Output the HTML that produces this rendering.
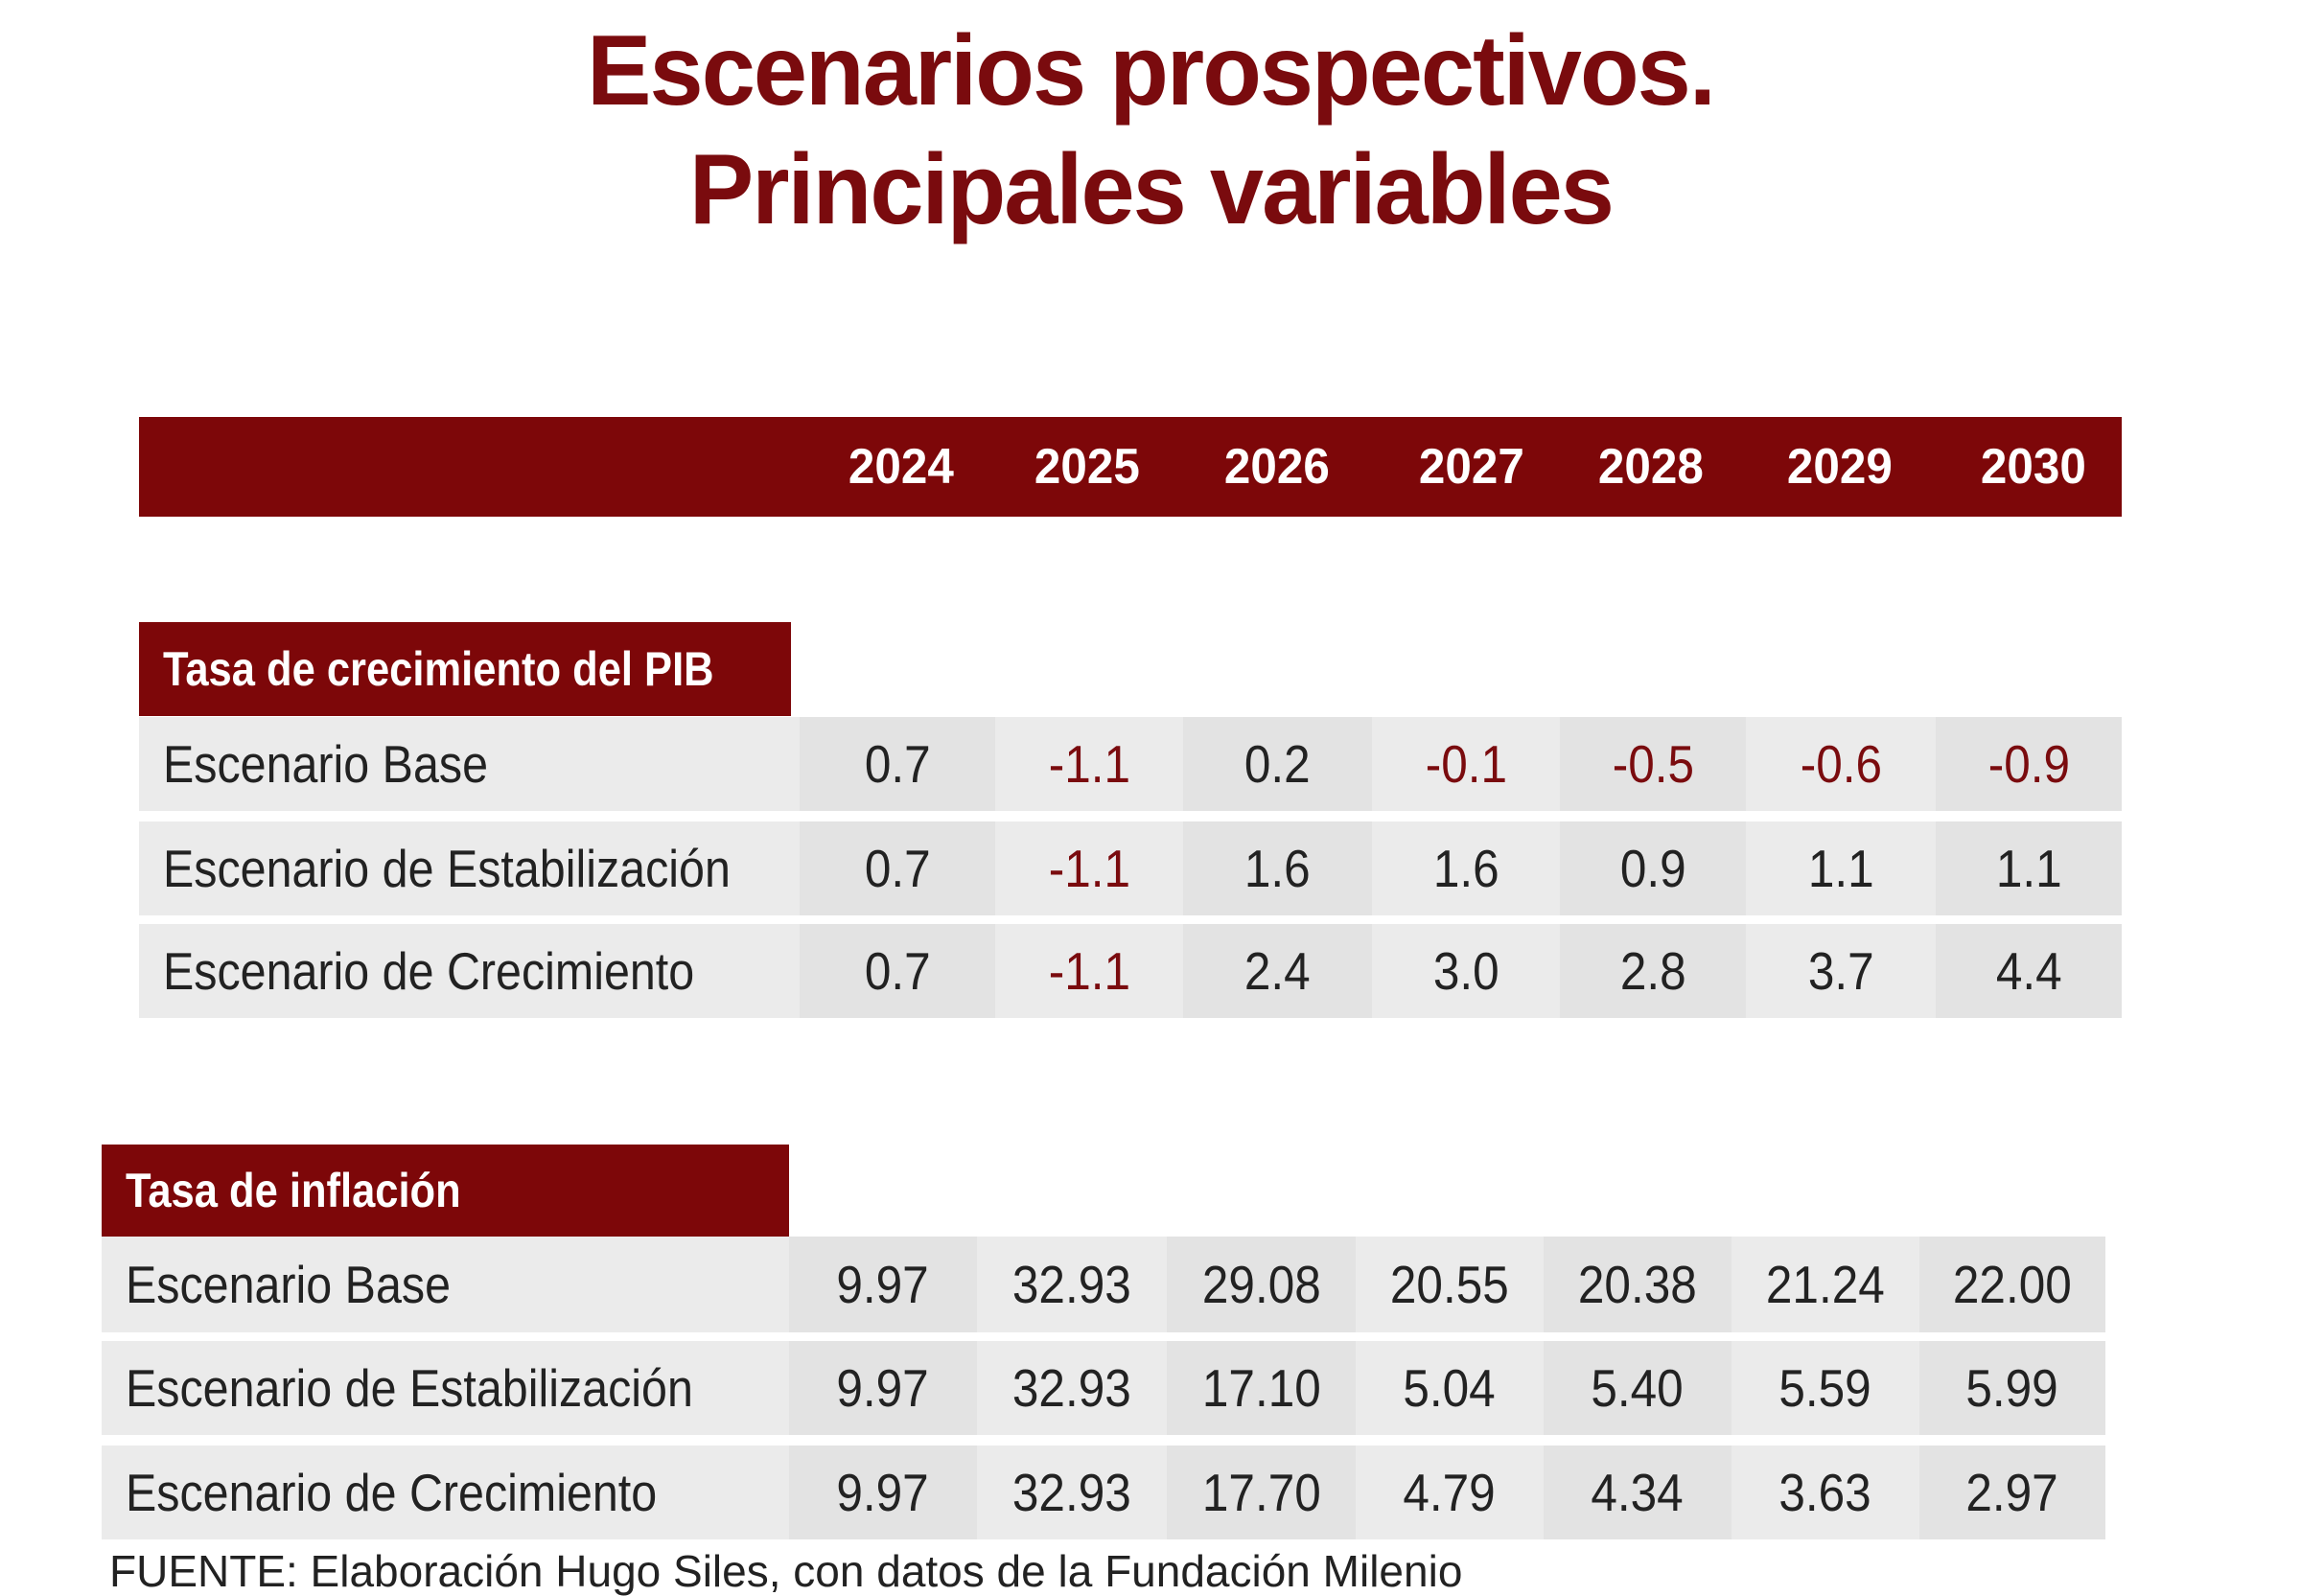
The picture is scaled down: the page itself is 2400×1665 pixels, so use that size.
<!DOCTYPE html>
<html><head><meta charset="utf-8"><style>
body{margin:0;width:2400px;height:1658px;background:#fff;position:relative;overflow:hidden;font-family:"Liberation Sans",sans-serif;}
div{position:absolute;box-sizing:border-box;white-space:nowrap;}
span{display:inline-block;}
.t{left:0;width:2400px;text-align:center;color:#7a0b0e;font-weight:bold;font-size:104px;letter-spacing:-2px;line-height:1;}
.t span{transform:scaleX(.97);}
.bar{background:#7d0709;}
.yr{color:#fff;font-weight:bold;font-size:52px;text-align:center;width:200px;top:460px;line-height:54px;}
.yr span{transform:scaleX(.95)}
.lab{color:#fff;font-weight:bold;font-size:50px;padding-left:25px;display:flex;align-items:center;}
.lab span{transform:scaleX(.87);transform-origin:left center}
.c{display:flex;align-items:center;justify-content:center;font-size:55px;color:#222;}
.c span{transform:scaleX(.9)}
.a{background:#ebebeb}.b{background:#e3e3e3}
.l{justify-content:flex-start;padding-left:25px;}
.l span{transform:scaleX(.88);transform-origin:left center}
.r{color:#7a0b0e}
</style></head><body>
<div class="t" style="top:22px"><span>Escenarios prospectivos.</span></div>
<div class="t" style="top:146px"><span>Principales variables</span></div>
<div class="bar" style="left:145px;top:435px;width:2068px;height:104px"></div>
<div class="yr" style="left:840px"><span>2024</span></div><div class="yr" style="left:1034px"><span>2025</span></div><div class="yr" style="left:1232px"><span>2026</span></div><div class="yr" style="left:1435px"><span>2027</span></div><div class="yr" style="left:1622px"><span>2028</span></div><div class="yr" style="left:1819px"><span>2029</span></div><div class="yr" style="left:2021px"><span>2030</span></div>

<div class="bar lab" style="left:145px;top:649px;width:680px;height:98px"><span>Tasa de crecimiento del PIB</span></div>

<div class="c a l" style="left:145px;top:748px;width:689px;height:98px"><span>Escenario Base</span></div>
<div class="c b" style="left:834px;top:748px;width:204px;height:98px"><span>0.7</span></div>
<div class="c a r" style="left:1038px;top:748px;width:196px;height:98px"><span>-1.1</span></div>
<div class="c b" style="left:1234px;top:748px;width:197px;height:98px"><span>0.2</span></div>
<div class="c a r" style="left:1431px;top:748px;width:196px;height:98px"><span>-0.1</span></div>
<div class="c b r" style="left:1627px;top:748px;width:194px;height:98px"><span>-0.5</span></div>
<div class="c a r" style="left:1821px;top:748px;width:198px;height:98px"><span>-0.6</span></div>
<div class="c b r" style="left:2019px;top:748px;width:194px;height:98px"><span>-0.9</span></div>

<div class="c a l" style="left:145px;top:857px;width:689px;height:98px"><span>Escenario de Estabilización</span></div>
<div class="c b" style="left:834px;top:857px;width:204px;height:98px"><span>0.7</span></div>
<div class="c a r" style="left:1038px;top:857px;width:196px;height:98px"><span>-1.1</span></div>
<div class="c b" style="left:1234px;top:857px;width:197px;height:98px"><span>1.6</span></div>
<div class="c a" style="left:1431px;top:857px;width:196px;height:98px"><span>1.6</span></div>
<div class="c b" style="left:1627px;top:857px;width:194px;height:98px"><span>0.9</span></div>
<div class="c a" style="left:1821px;top:857px;width:198px;height:98px"><span>1.1</span></div>
<div class="c b" style="left:2019px;top:857px;width:194px;height:98px"><span>1.1</span></div>

<div class="c a l" style="left:145px;top:964px;width:689px;height:98px"><span>Escenario de Crecimiento</span></div>
<div class="c b" style="left:834px;top:964px;width:204px;height:98px"><span>0.7</span></div>
<div class="c a r" style="left:1038px;top:964px;width:196px;height:98px"><span>-1.1</span></div>
<div class="c b" style="left:1234px;top:964px;width:197px;height:98px"><span>2.4</span></div>
<div class="c a" style="left:1431px;top:964px;width:196px;height:98px"><span>3.0</span></div>
<div class="c b" style="left:1627px;top:964px;width:194px;height:98px"><span>2.8</span></div>
<div class="c a" style="left:1821px;top:964px;width:198px;height:98px"><span>3.7</span></div>
<div class="c b" style="left:2019px;top:964px;width:194px;height:98px"><span>4.4</span></div>

<div class="bar lab" style="left:106px;top:1194px;width:717px;height:96px"><span>Tasa de inflación</span></div>

<div class="c a l" style="left:106px;top:1290px;width:717px;height:100px"><span>Escenario Base</span></div>
<div class="c b" style="left:823px;top:1290px;width:196px;height:100px"><span>9.97</span></div>
<div class="c a" style="left:1019px;top:1290px;width:198px;height:100px"><span>32.93</span></div>
<div class="c b" style="left:1217px;top:1290px;width:197px;height:100px"><span>29.08</span></div>
<div class="c a" style="left:1414px;top:1290px;width:196px;height:100px"><span>20.55</span></div>
<div class="c b" style="left:1610px;top:1290px;width:196px;height:100px"><span>20.38</span></div>
<div class="c a" style="left:1806px;top:1290px;width:196px;height:100px"><span>21.24</span></div>
<div class="c b" style="left:2002px;top:1290px;width:194px;height:100px"><span>22.00</span></div>

<div class="c a l" style="left:106px;top:1399px;width:717px;height:98px"><span>Escenario de Estabilización</span></div>
<div class="c b" style="left:823px;top:1399px;width:196px;height:98px"><span>9.97</span></div>
<div class="c a" style="left:1019px;top:1399px;width:198px;height:98px"><span>32.93</span></div>
<div class="c b" style="left:1217px;top:1399px;width:197px;height:98px"><span>17.10</span></div>
<div class="c a" style="left:1414px;top:1399px;width:196px;height:98px"><span>5.04</span></div>
<div class="c b" style="left:1610px;top:1399px;width:196px;height:98px"><span>5.40</span></div>
<div class="c a" style="left:1806px;top:1399px;width:196px;height:98px"><span>5.59</span></div>
<div class="c b" style="left:2002px;top:1399px;width:194px;height:98px"><span>5.99</span></div>

<div class="c a l" style="left:106px;top:1508px;width:717px;height:98px"><span>Escenario de Crecimiento</span></div>
<div class="c b" style="left:823px;top:1508px;width:196px;height:98px"><span>9.97</span></div>
<div class="c a" style="left:1019px;top:1508px;width:198px;height:98px"><span>32.93</span></div>
<div class="c b" style="left:1217px;top:1508px;width:197px;height:98px"><span>17.70</span></div>
<div class="c a" style="left:1414px;top:1508px;width:196px;height:98px"><span>4.79</span></div>
<div class="c b" style="left:1610px;top:1508px;width:196px;height:98px"><span>4.34</span></div>
<div class="c a" style="left:1806px;top:1508px;width:196px;height:98px"><span>3.63</span></div>
<div class="c b" style="left:2002px;top:1508px;width:194px;height:98px"><span>2.97</span></div>

<div style="left:114px;top:1614px;font-size:46px;color:#222;line-height:50px">FUENTE: Elaboración Hugo Siles, con datos de la Fundación Milenio</div>
</body></html>
